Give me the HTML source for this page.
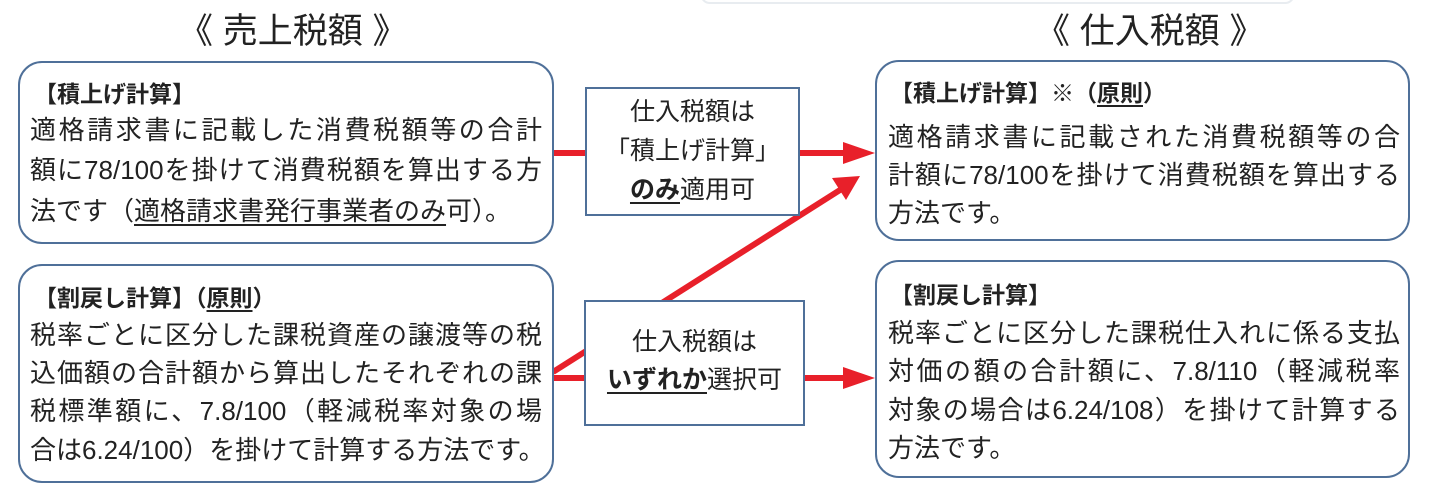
<!DOCTYPE html>
<html><head><meta charset="utf-8"><style>
body{margin:0;width:1430px;height:490px;background:#fff;position:relative;overflow:hidden;font-family:"Liberation Sans","Noto Sans CJK JP",sans-serif;color:#222}
.box{position:absolute;border:2px solid #4f7099;border-radius:24px;background:#fff;box-sizing:border-box}
.mid{position:absolute;border:2px solid #4f7099;background:#fff;box-sizing:border-box}
.l{position:absolute;white-space:nowrap;font-size:26px;line-height:30px}
.j{text-align:justify;text-align-last:justify}
.h{position:absolute;white-space:nowrap;font-size:23px;font-weight:bold;line-height:30px}
.t{position:absolute;font-size:35px;line-height:40px;white-space:nowrap}
.c{position:absolute;font-size:25px;line-height:30px;text-align:center;white-space:nowrap}
u{text-decoration:underline;text-underline-offset:4px}
</style></head><body>
<div style="position:absolute;left:700px;top:-20px;width:595px;height:24px;border:2px solid #e8ecf0;border-radius:10px;box-sizing:border-box"></div>
<svg style="position:absolute;left:0;top:0" width="1430" height="490">
<g stroke="#e8202a" stroke-width="6" fill="#e8202a">
<line x1="553" y1="153" x2="590" y2="153"/>
<line x1="798" y1="153" x2="845" y2="153"/>
<polygon points="843,142 875,153 843,164" stroke="none"/>
<line x1="553" y1="372" x2="840" y2="190"/>
<polygon points="832,178 860,176 846,200" stroke="none"/>
<line x1="553" y1="378" x2="590" y2="378"/>
<line x1="803" y1="378" x2="845" y2="378"/>
<polygon points="843,367 875,378 843,389" stroke="none"/>
</g></svg>
<div class="t" style="left:178px;top:12px">《 売上税額 》</div>
<div class="t" style="left:1035px;top:12px">《 仕入税額 》</div>

<div class="box" style="left:18px;top:61px;width:536px;height:183px"></div>
<div class="h" style="left:34px;top:79px">【積上げ計算】</div>
<div class="l j" style="left:30px;top:115px;width:512px">適格請求書に記載した消費税額等の合計</div>
<div class="l j" style="left:30px;top:155px;width:512px">額に78/100を掛けて消費税額を算出する方</div>
<div class="l" style="left:30px;top:196px">法です（<u>適格請求書発行事業者のみ</u>可）。</div>

<div class="box" style="left:18px;top:264px;width:536px;height:219px"></div>
<div class="h" style="left:34px;top:283px">【割戻し計算】（<u>原則</u>）</div>
<div class="l j" style="left:30px;top:320px;width:512px">税率ごとに区分した課税資産の譲渡等の税</div>
<div class="l j" style="left:30px;top:358px;width:512px">込価額の合計額から算出したそれぞれの課</div>
<div class="l j" style="left:30px;top:396px;width:512px">税標準額に、7.8/100（軽減税率対象の場</div>
<div class="l j" style="left:30px;top:435px;width:512px">合は6.24/100）を掛けて計算する方法です。</div>

<div class="mid" style="left:585px;top:87px;width:215px;height:129px"></div>
<div class="c" style="left:585px;top:97px;width:215px">仕入税額は</div>
<div class="c" style="left:585px;top:136px;width:215px">「積上げ計算」</div>
<div class="c" style="left:585px;top:175px;width:215px"><u><b>のみ</b></u>適用可</div>

<div class="mid" style="left:584px;top:300px;width:221px;height:126px"></div>
<div class="c" style="left:584px;top:327px;width:221px">仕入税額は</div>
<div class="c" style="left:584px;top:365px;width:221px"><u><b>いずれか</b></u>選択可</div>

<div class="box" style="left:875px;top:60px;width:535px;height:181px"></div>
<div class="h" style="left:890px;top:78px">【積上げ計算】※（<u>原則</u>）</div>
<div class="l j" style="left:888px;top:122px;width:512px">適格請求書に記載された消費税額等の合</div>
<div class="l j" style="left:888px;top:160px;width:512px">計額に78/100を掛けて消費税額を算出する</div>
<div class="l" style="left:888px;top:198px">方法です。</div>

<div class="box" style="left:875px;top:260px;width:535px;height:218px"></div>
<div class="h" style="left:890px;top:280px">【割戻し計算】</div>
<div class="l j" style="left:888px;top:318px;width:512px">税率ごとに区分した課税仕入れに係る支払</div>
<div class="l j" style="left:888px;top:356px;width:512px">対価の額の合計額に、7.8/110（軽減税率</div>
<div class="l j" style="left:888px;top:395px;width:512px">対象の場合は6.24/108）を掛けて計算する</div>
<div class="l" style="left:888px;top:433px">方法です。</div>
</body></html>
